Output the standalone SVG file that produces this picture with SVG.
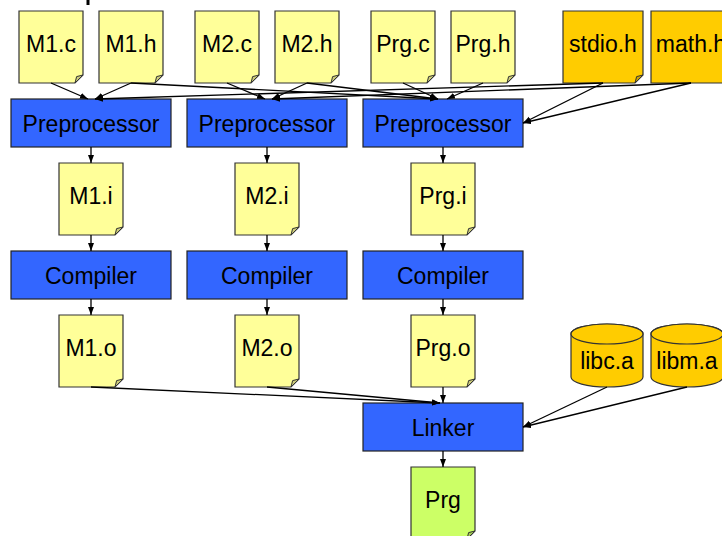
<svg xmlns="http://www.w3.org/2000/svg" xmlns:xlink="http://www.w3.org/1999/xlink" width="722" height="536" viewBox="0 0 722 536">
<style>
text{font-family:"Liberation Sans",Arial,sans-serif;font-size:23px;fill:#000;text-anchor:middle}
.doc{fill:#ffff99;stroke:#333;stroke-width:1.2}
.docfold{fill:#cccc7a;stroke:#333;stroke-width:1}
.hdr{fill:#ffcc00;stroke:#333;stroke-width:1.2}
.hdrfold{fill:#cca300;stroke:#333;stroke-width:1}
.exe{fill:#ccff66;stroke:#333;stroke-width:1.2}
.exefold{fill:#a3cc52;stroke:#333;stroke-width:1}
.tool{fill:#3366ff;stroke:#222;stroke-width:1.2}
.lib{fill:#ffcc00;stroke:#333;stroke-width:1.2}
.conn line{stroke:#000;stroke-width:1.3;marker-end:url(#arr)}
</style>
<defs>
<marker id="arr" markerUnits="userSpaceOnUse" markerWidth="9" markerHeight="7" refX="8" refY="3" orient="auto"><path d="M0 0L8 3L0 6z" fill="#000"/></marker>
<path id="d64" d="M0 0h64v64l-8 8h-56z"/>
<path id="f64" d="M56 72l1.6-6.4 6.4-1.6z"/>
<path id="d80" d="M0 0h80v64l-8 8h-72z"/>
<path id="f80" d="M72 72l1.6-6.4 6.4-1.6z"/>
</defs>
<rect x="86.5" y="0" width="3" height="5" fill="#000"/>
<g id="M1c" transform="translate(19,11)"><use href="#d64" class="doc"/><use href="#f64" class="docfold"/><text x="32" y="41">M1.c</text></g>
<g id="M1h" transform="translate(99,11)"><use href="#d64" class="doc"/><use href="#f64" class="docfold"/><text x="32" y="41">M1.h</text></g>
<g id="M2c" transform="translate(195,11)"><use href="#d64" class="doc"/><use href="#f64" class="docfold"/><text x="32" y="41">M2.c</text></g>
<g id="M2h" transform="translate(275,11)"><use href="#d64" class="doc"/><use href="#f64" class="docfold"/><text x="32" y="41">M2.h</text></g>
<g id="Prgc" transform="translate(371,11)"><use href="#d64" class="doc"/><use href="#f64" class="docfold"/><text x="32" y="41">Prg.c</text></g>
<g id="Prgh" transform="translate(451,11)"><use href="#d64" class="doc"/><use href="#f64" class="docfold"/><text x="32" y="41">Prg.h</text></g>
<g id="stdioh" transform="translate(563,11)"><use href="#d80" class="hdr"/><use href="#f80" class="hdrfold"/><text x="40" y="41">stdio.h</text></g>
<g id="mathh" transform="translate(651,11)"><use href="#d80" class="hdr"/><use href="#f80" class="hdrfold"/><text x="40" y="41">math.h</text></g>
<g id="Pre1"><rect class="tool" x="11" y="99" width="160" height="48"/><text x="91" y="132">Preprocessor</text></g>
<g id="Pre2"><rect class="tool" x="187" y="99" width="160" height="48"/><text x="267" y="132">Preprocessor</text></g>
<g id="Pre3"><rect class="tool" x="363" y="99" width="160" height="48"/><text x="443" y="132">Preprocessor</text></g>
<g id="M1i" transform="translate(59,163)"><use href="#d64" class="doc"/><use href="#f64" class="docfold"/><text x="32" y="41">M1.i</text></g>
<g id="M2i" transform="translate(235,163)"><use href="#d64" class="doc"/><use href="#f64" class="docfold"/><text x="32" y="41">M2.i</text></g>
<g id="Prgi" transform="translate(411,163)"><use href="#d64" class="doc"/><use href="#f64" class="docfold"/><text x="32" y="41">Prg.i</text></g>
<g id="Cmp1"><rect class="tool" x="11" y="251" width="160" height="48"/><text x="91" y="284">Compiler</text></g>
<g id="Cmp2"><rect class="tool" x="187" y="251" width="160" height="48"/><text x="267" y="284">Compiler</text></g>
<g id="Cmp3"><rect class="tool" x="363" y="251" width="160" height="48"/><text x="443" y="284">Compiler</text></g>
<g id="M1o" transform="translate(59,315)"><use href="#d64" class="doc"/><use href="#f64" class="docfold"/><text x="32" y="41">M1.o</text></g>
<g id="M2o" transform="translate(235,315)"><use href="#d64" class="doc"/><use href="#f64" class="docfold"/><text x="32" y="41">M2.o</text></g>
<g id="Prgo" transform="translate(411,315)"><use href="#d64" class="doc"/><use href="#f64" class="docfold"/><text x="32" y="41">Prg.o</text></g>
<g id="libc"><path class="lib" d="M571 334v43a36 10 0 0 0 72 0v-43a36 10 0 0 0-72 0z"/><ellipse class="lib" cx="607" cy="334" rx="36" ry="10"/><text x="607" y="369">libc.a</text></g>
<g id="libm"><path class="lib" d="M651 334v43a36 10 0 0 0 72 0v-43a36 10 0 0 0-72 0z"/><ellipse class="lib" cx="687" cy="334" rx="36" ry="10"/><text x="687" y="369">libm.a</text></g>
<g id="Linker"><rect class="tool" x="363" y="403" width="160" height="48"/><text x="443" y="436">Linker</text></g>
<g id="Prg" transform="translate(411,467)"><use href="#d64" class="exe"/><use href="#f64" class="exefold"/><text x="32" y="41">Prg</text></g>
<g id="connectors" class="conn">
<line x1="51" y1="83" x2="88" y2="99"/>
<line x1="131" y1="83" x2="95" y2="99"/>
<line x1="603" y1="83" x2="95" y2="99"/>
<line x1="227" y1="83" x2="265" y2="99"/>
<line x1="307" y1="83" x2="272" y2="99"/>
<line x1="691" y1="83" x2="272" y2="99"/>
<line x1="131" y1="83" x2="438" y2="99"/>
<line x1="307" y1="83" x2="438" y2="99"/>
<line x1="403" y1="83" x2="438" y2="99"/>
<line x1="483" y1="83" x2="447" y2="99"/>
<line x1="603" y1="83" x2="523" y2="123"/>
<line x1="691" y1="83" x2="523" y2="123"/>
<line x1="91" y1="147" x2="91" y2="163"/>
<line x1="267" y1="147" x2="267" y2="163"/>
<line x1="443" y1="147" x2="443" y2="163"/>
<line x1="91" y1="235" x2="91" y2="251"/>
<line x1="267" y1="235" x2="267" y2="251"/>
<line x1="443" y1="235" x2="443" y2="251"/>
<line x1="91" y1="299" x2="91" y2="315"/>
<line x1="267" y1="299" x2="267" y2="315"/>
<line x1="443" y1="299" x2="443" y2="315"/>
<line x1="91" y1="387" x2="440" y2="403"/>
<line x1="267" y1="387" x2="440" y2="403"/>
<line x1="443" y1="387" x2="443" y2="403"/>
<line x1="607" y1="387" x2="523" y2="427"/>
<line x1="687" y1="387" x2="523" y2="427"/>
<line x1="443" y1="451" x2="443" y2="467"/>
</g>
</svg>
